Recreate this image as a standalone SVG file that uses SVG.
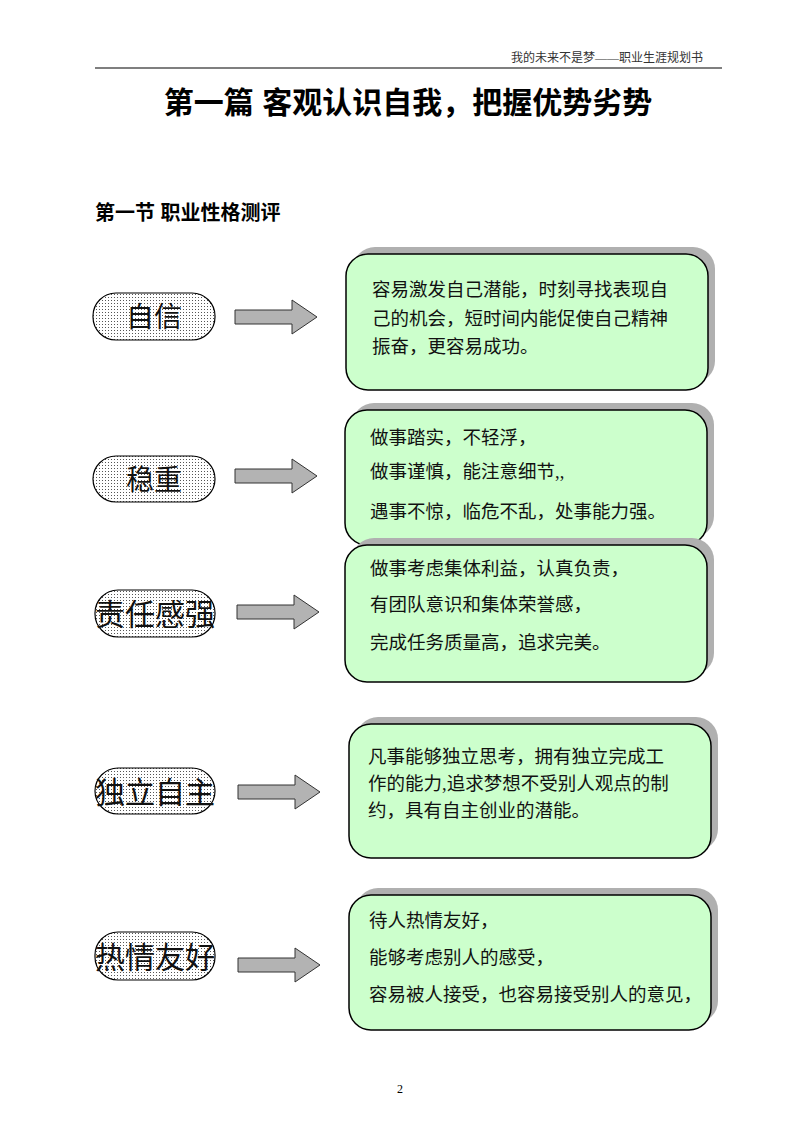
<svg xmlns="http://www.w3.org/2000/svg" width="800" height="1132" viewBox="0 0 800 1132">
<defs>
<pattern id="dots" width="3" height="3" patternUnits="userSpaceOnUse"><rect width="3" height="3" fill="#fff"/><rect width="1" height="1" fill="#555"/></pattern>
<style>
.pill{fill:url(#dots);stroke:#000;stroke-width:1.2}
.pt{font-family:"Liberation Serif","Noto Sans CJK SC",serif;font-size:28px;text-anchor:middle;fill:#111}
.p4{font-size:30px}
.sh{fill:#b0b0b0}
.box{fill:#ccffcc;stroke:#000;stroke-width:1.5}
.bt{font-family:"Liberation Serif","Noto Sans CJK SC",serif;font-size:18.5px;fill:#111}
.arr{fill:#b3b3b3;stroke:#333;stroke-width:1}
</style>
</defs>
<rect width="800" height="1132" fill="#fff"/>
<text x="703" y="62" text-anchor="end" font-family="Liberation Serif,Noto Sans CJK SC,serif" font-size="12" fill="#333">我的未来不是梦——职业生涯规划书</text>
<line x1="95" y1="68" x2="722" y2="68" stroke="#000" stroke-width="1.2"/>
<text x="408" y="113" text-anchor="middle" font-family="Liberation Sans,Noto Sans CJK SC,sans-serif" font-weight="bold" font-size="30" fill="#000">第一篇 客观认识自我，把握优势劣势</text>
<text x="95" y="220" font-family="Liberation Sans,Noto Sans CJK SC,sans-serif" font-weight="bold" font-size="20" fill="#000">第一节 职业性格测评</text>
<g id="connectors">
<path class="arr" d="M235,310 H292 V300 L317,317 L292,334 V324 H235 Z"/>
<path class="arr" d="M235,469 H292 V459 L317,476 L292,493 V483 H235 Z"/>
<path class="arr" d="M237,605 H294 V595 L319,612 L294,629 V619 H237 Z"/>
<path class="arr" d="M238,785 H295 V775 L320,792 L295,809 V799 H238 Z"/>
<path class="arr" d="M238,958 H295 V948 L320,965 L295,982 V972 H238 Z"/>
</g>
<g id="n1"><rect class="pill" x="93" y="293" width="122" height="47" rx="23"/><text class="pt" x="154" y="327">自信</text></g>
<g id="n2"><rect class="pill" x="93" y="456" width="122" height="46" rx="23"/><text class="pt" x="154" y="490">稳重</text></g>
<g id="n3"><rect class="pill" x="95" y="590" width="120" height="47" rx="23"/><text class="pt p4" x="155" y="625">责任感强</text></g>
<g id="n4"><rect class="pill" x="95" y="768" width="120" height="46" rx="23"/><text class="pt p4" x="155" y="803">独立自主</text></g>
<g id="n5"><rect class="pill" x="95" y="932" width="120" height="48" rx="23"/><text class="pt p4" x="155" y="968">热情友好</text></g>
<g id="b1"><rect class="sh" x="353" y="247" width="362" height="136" rx="22"/><rect class="box" x="346" y="254" width="362" height="136" rx="22"/>
<text class="bt" x="372" y="296">容易激发自己潜能，时刻寻找表现自</text><text class="bt" x="372" y="325">己的机会，短时间内能促使自己精神</text><text class="bt" x="372" y="353">振奋，更容易成功。</text></g>
<g id="b2"><rect class="sh" x="352" y="403" width="362" height="135" rx="22"/><rect class="box" x="345" y="410" width="362" height="135" rx="22"/>
<text class="bt" x="370" y="444">做事踏实，不轻浮，</text><text class="bt" x="370" y="478">做事谨慎，能注意细节,,</text><text class="bt" x="370" y="518">遇事不惊，临危不乱，处事能力强。</text></g>
<g id="b3"><rect class="sh" x="352" y="538" width="362" height="137" rx="22"/><rect class="box" x="345" y="545" width="362" height="137" rx="22"/>
<text class="bt" x="370" y="575">做事考虑集体利益，认真负责，</text><text class="bt" x="370" y="611">有团队意识和集体荣誉感，</text><text class="bt" x="370" y="649">完成任务质量高，追求完美。</text></g>
<g id="b4"><rect class="sh" x="356" y="717" width="362" height="134" rx="22"/><rect class="box" x="349" y="724" width="362" height="134" rx="22"/>
<text class="bt" x="368" y="763">凡事能够独立思考，拥有独立完成工</text><text class="bt" x="368" y="790">作的能力,追求梦想不受别人观点的制</text><text class="bt" x="368" y="817">约，具有自主创业的潜能。</text></g>
<g id="b5"><rect class="sh" x="356" y="888" width="362" height="135" rx="22"/><rect class="box" x="349" y="895" width="362" height="135" rx="22"/>
<text class="bt" x="369" y="927">待人热情友好，</text><text class="bt" x="369" y="964">能够考虑别人的感受，</text><text class="bt" x="369" y="1001">容易被人接受，也容易接受别人的意见，</text></g>
<text x="400" y="1093" text-anchor="middle" font-family="Liberation Serif,serif" font-size="12" fill="#000">2</text>
</svg>
